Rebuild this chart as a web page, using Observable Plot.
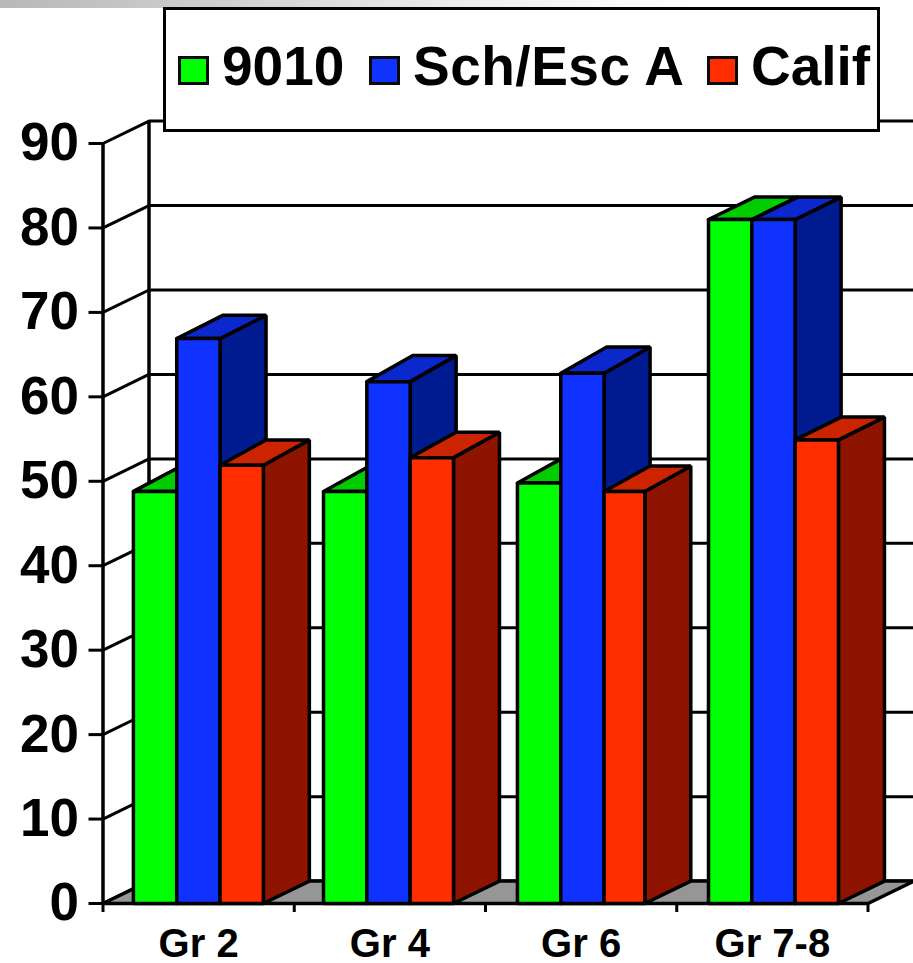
<!DOCTYPE html>
<html><head><meta charset="utf-8">
<script src="https://cdn.jsdelivr.net/npm/d3@7"></script>
<script src="https://cdn.jsdelivr.net/npm/@observablehq/plot@0.6"></script>
<style>
html,body{margin:0;padding:0;background:#fff;overflow:hidden}
#wrap{position:relative;width:913px;height:963px;font-family:"Liberation Sans",Arial,sans-serif}
#bar{position:absolute;left:0;top:0;width:913px;height:8px;background:linear-gradient(to right,#b8b8b8 0,#d0d0d0 25%,#ececec 50%,#fff 75%)}
#legend{position:absolute;left:163px;top:7px;width:711px;height:119px;border:3px solid #000;background:#fff;box-sizing:content-box}
#legend span{position:absolute;font-weight:bold;font-size:55px;line-height:1;top:29px;white-space:nowrap}
#legend i{position:absolute;top:46px;width:25px;height:23px;border:3px solid #0a0a0a}
svg{position:absolute;left:0;top:0}
</style></head><body><div id="wrap"><div id="chart"></div><div id="bar"></div><div id="legend"></div></div>
<script>
const groups = ["Gr 2", "Gr 4", "Gr 6", "Gr 7-8"];
const series = ["9010", "Sch/Esc A", "Calif"];
const v9010 = [48.8, 48.8, 49.8, 81];
const vSch = [66.9, 61.8, 62.8, 81];
const vCalif = [51.9, 52.8, 48.8, 54.9];
const valuesBySeries = [v9010, vSch, vCalif];
const yTicks = [0, 10, 20, 30, 40, 50, 60, 70, 80, 90];

const front = ["#00ff00", "#0f32ff", "#ff2d00"];
const top_ = ["#00cc00", "#0a28cc", "#cc2400"];
const side = ["#009900", "#001a90", "#8f1400"];
const groupStart = [0.159, 1.153, 2.167, 3.166];
const lastBarScale = [1, 1, 0.94, 1];
const topRise = [[2.9, 2.75, 3], [3, 3.1, 3], [3, 3.1, 3], [2.65, 2.65, 2.7]];
const barW = 0.2265, depthX = 0.2405, depthY = 2.65;

const faces = [];
let id = 0;
function face(points, fill) {
  const z = id++;
  const pts = [...points, points[0]];
  for (const [x, y] of pts) faces.push({x, y, z, fill});
}
// floor
face([[0, 0], [depthX, depthY], [4 + depthX, depthY], [4, 0]], "#969696");
groups.forEach((g, i) => {
  series.forEach((s, k) => {
    const v = valuesBySeries[k][i];
    const r = topRise[i][k];
    const x0 = groupStart[i] + k * barW;
    const x1 = x0 + barW * (k === 2 ? lastBarScale[i] : 1);
    face([[x1, 0], [x1 + depthX, depthY], [x1 + depthX, v + r], [x1, v]], side[k]);
    face([[x0, v], [x0 + depthX, v + r], [x1 + depthX, v + r], [x1, v]], top_[k]);
    face([[x0, 0], [x0, v], [x1, v], [x1, 0]], front[k]);
  });
});
const sideLines = yTicks.flatMap((t, i) => [
  {x: 0, y: t, z: i},
  {x: depthX, y: t + depthY, z: i},
  {x: 4 + depthX, y: t + depthY, z: i}
]);
const boundaries = d3.range(groups.length + 1);
const centers = groups.map((g, i) => i + 0.5);
const chartFont = '"Liberation Sans",Arial,sans-serif';

const plot = Plot.plot({
  width: 913, height: 963,
  marginLeft: 102.5, marginRight: 45.5, marginTop: 143, marginBottom: 60,
  x: {domain: [0, 4]},
  y: {domain: [0, 90]},
  color: {type: "identity"},
  style: {fontFamily: chartFont, background: "transparent", overflow: "visible"},
  marks: [
    Plot.line(sideLines, {x: "x", y: "y", z: "z", stroke: "#000", strokeWidth: 3, curve: "linear"}),
    Plot.ruleX([0], {y1: 0, y2: 90, stroke: "#000", strokeWidth: 3.5}),
    Plot.ruleX([depthX], {y1: depthY, y2: 90 + depthY, stroke: "#000", strokeWidth: 3.5}),
    Plot.line(faces, {x: "x", y: "y", z: "z", fill: "fill", stroke: "#000", strokeWidth: 3.5, strokeLinejoin: "miter"}),
    Plot.axisY({ticks: yTicks, tickSize: 14, tickPadding: 10, label: null, fontSize: 53, fontWeight: "bold", stroke: "#000", strokeWidth: 3, fill: "#000", tickFormat: d => String(d)}),
    Plot.axisX({ticks: boundaries, tickSize: 9, label: null, tickFormat: () => "", strokeWidth: 3, stroke: "#000"}),
    Plot.axisX({ticks: centers, tickSize: 0, tickPadding: 25, label: null, fontSize: 40, fontWeight: "bold", fill: "#000", tickFormat: d => groups[Math.floor(d)]})
  ]
});
document.getElementById("chart").appendChild(plot);

const legend = document.getElementById("legend");
const swatchX = [12, 203, 541], textX = [56, 247, 585];
series.forEach((s, k) => {
  const i = document.createElement("i");
  i.style.left = swatchX[k] + "px"; i.style.background = front[k];
  legend.appendChild(i);
  const t = document.createElement("span");
  t.style.left = textX[k] + "px"; t.textContent = s;
  if (k === 1) t.style.letterSpacing = "0.5px";
  legend.appendChild(t);
});
</script></body></html>
